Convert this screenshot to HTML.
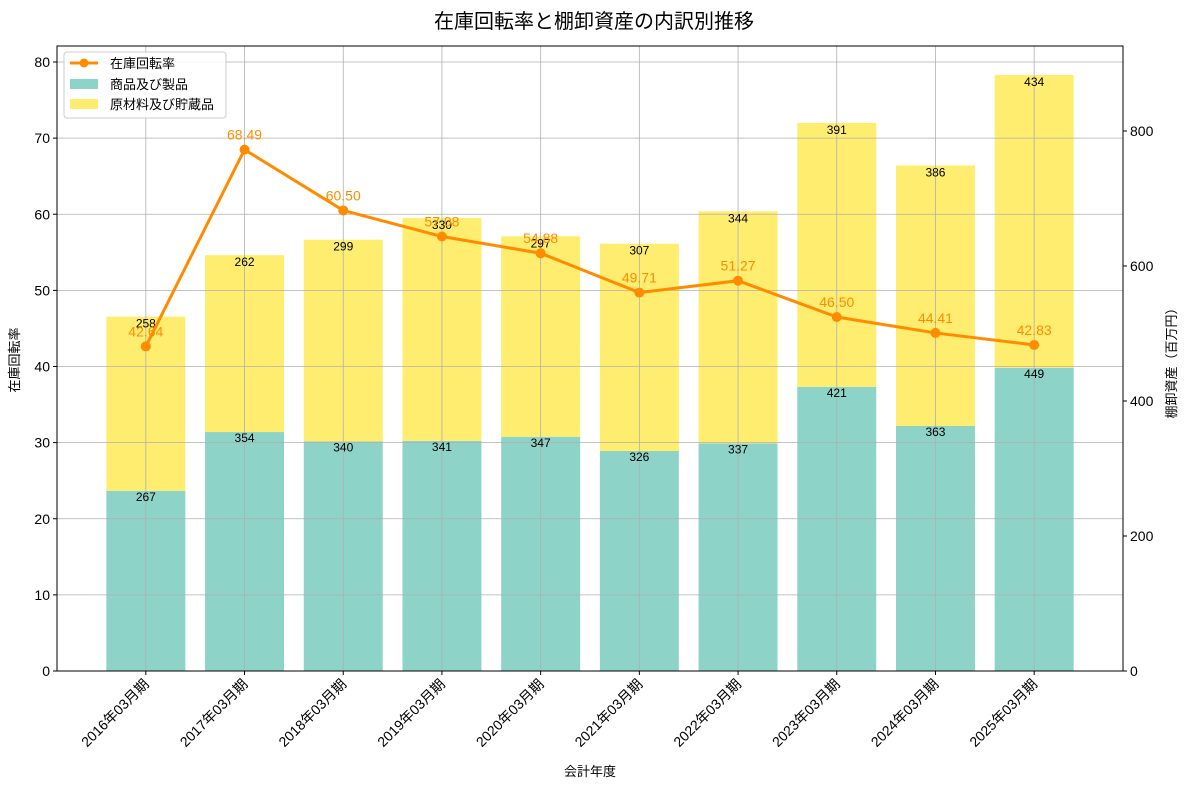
<!DOCTYPE html>
<html><head><meta charset="utf-8"><style>
body{margin:0;background:#fff}
text{font-family:"Liberation Sans","Noto Sans CJK JP",sans-serif}
</style></head><body>
<svg id="c" width="1189" height="789" xmlns="http://www.w3.org/2000/svg"></svg>
<script>
const categories=["2016年03月期","2017年03月期","2018年03月期","2019年03月期","2020年03月期","2021年03月期","2022年03月期","2023年03月期","2024年03月期","2025年03月期"];
const products=[267,354,340,341,347,326,337,421,363,449];
const materials=[258,262,299,330,297,307,344,391,386,434];
const turnover=[42.64,68.49,60.50,57.08,54.88,49.71,51.27,46.50,44.41,42.83];
const leftTicks=[0,10,20,30,40,50,60,70,80];
const rightTicks=[0,200,400,600,800];
const NS="http://www.w3.org/2000/svg";
const svg=document.getElementById('c');
const L=57,R=1123,T=46,B=671;
const x=i=>L+(i+0.9)*(R-L)/10.8;
const yl=v=>B-v*(B-62)/80;
const yr=v=>B-v*(B-131)/800;
const bw=0.8*(R-L)/10.8;
function el(tag,attrs,parent){const e=document.createElementNS(NS,tag);for(const k in attrs)e.setAttribute(k,attrs[k]);(parent||svg).appendChild(e);return e;}
function txt(s,attrs,parent){const e=el('text',attrs,parent);e.textContent=s;return e;}
// title
let t=txt("在庫回転率と棚卸資産の内訳別推移",{x:594,y:28,'text-anchor':'middle','font-size':20});

// bars
const gb=el('g',{});

categories.forEach((c,i)=>{
  let r1=el('rect',{x:x(i)-bw/2,y:yr(products[i]),width:bw,height:B-yr(products[i]),fill:'#8dd3c7'},gb);
  
  let r2=el('rect',{x:x(i)-bw/2,y:yr(products[i]+materials[i]),width:bw,height:yr(products[i])-yr(products[i]+materials[i]),fill:'#ffed6f'},gb);
  
});
// grid
const gg=el('g',{stroke:'#b0b0b0','stroke-width':0.8});

leftTicks.forEach(v=>el('line',{x1:L,x2:R,y1:yl(v),y2:yl(v)},gg));
categories.forEach((c,i)=>el('line',{x1:x(i),x2:x(i),y1:T,y2:B},gg));
// bar labels
categories.forEach((c,i)=>{
  let a=txt(products[i],{x:x(i),y:yr(products[i])+10,'text-anchor':'middle','font-size':12});
  
  let b=txt(materials[i],{x:x(i),y:yr(products[i]+materials[i])+11,'text-anchor':'middle','font-size':12});
  
});
// line
const pts=turnover.map((v,i)=>x(i)+','+yl(v)).join(' ');
let pl=el('polyline',{points:pts,fill:'none',stroke:'#ff8c00','stroke-width':3});

turnover.forEach((v,i)=>{
  let c=el('circle',{cx:x(i),cy:yl(v),r:5,fill:'#ff8c00'});
  
  let l=txt(v.toFixed(2),{x:x(i),y:yl(v)-10,'text-anchor':'middle','font-size':14,fill:'#ff8c00'});
  
});
// frame
let fr=el('rect',{x:L,y:T,width:R-L,height:B-T,fill:'none',stroke:'#000','stroke-width':1});

// left axis
const ga=el('g',{});
leftTicks.forEach(v=>{el('line',{x1:L-4,x2:L,y1:yl(v),y2:yl(v),stroke:'#000'},ga);txt(v,{x:L-7,y:yl(v)+5,'text-anchor':'end','font-size':14},ga);});
const gr=el('g',{});
rightTicks.forEach(v=>{el('line',{x1:R,x2:R+4,y1:yr(v),y2:yr(v),stroke:'#000'},gr);txt(v,{x:R+7,y:yr(v)+5,'font-size':14},gr);});
const gx=el('g',{});
categories.forEach((c,i)=>{el('line',{x1:x(i),x2:x(i),y1:B,y2:B+4,stroke:'#000'},gx);
  txt(c,{x:x(i)+4,y:B+14,'text-anchor':'end','font-size':14,transform:`rotate(-45 ${x(i)+4} ${B+14})`},gx);});
let xt=txt("会計年度",{x:590,y:776,'text-anchor':'middle','font-size':13});
let ylt=txt("在庫回転率",{x:19,y:360,'text-anchor':'middle','font-size':13,transform:'rotate(-90 19 360)'});
let yrt=txt("棚卸資産（百万円）",{x:1176,y:360,'text-anchor':'middle','font-size':13,transform:'rotate(-90 1176 360)'});
// legend
const lg=el('g',{});
el('rect',{x:64,y:52,width:162,height:66,fill:'#fff','fill-opacity':0.85,stroke:'#ccc',rx:3},lg);
el('line',{x1:70,x2:98,y1:63,y2:63,stroke:'#ff8c00','stroke-width':3},lg);el('circle',{cx:84,cy:63,r:4.5,fill:'#ff8c00'},lg);
txt("在庫回転率",{x:110,y:68,'font-size':13},lg);
el('rect',{x:70,y:79,width:28,height:10,fill:'#8dd3c7'},lg);txt("商品及び製品",{x:110,y:89,'font-size':13},lg);
el('rect',{x:70,y:99,width:28,height:10,fill:'#ffed6f'},lg);txt("原材料及び貯蔵品",{x:110,y:109,'font-size':13},lg);
</script>
</body></html>
